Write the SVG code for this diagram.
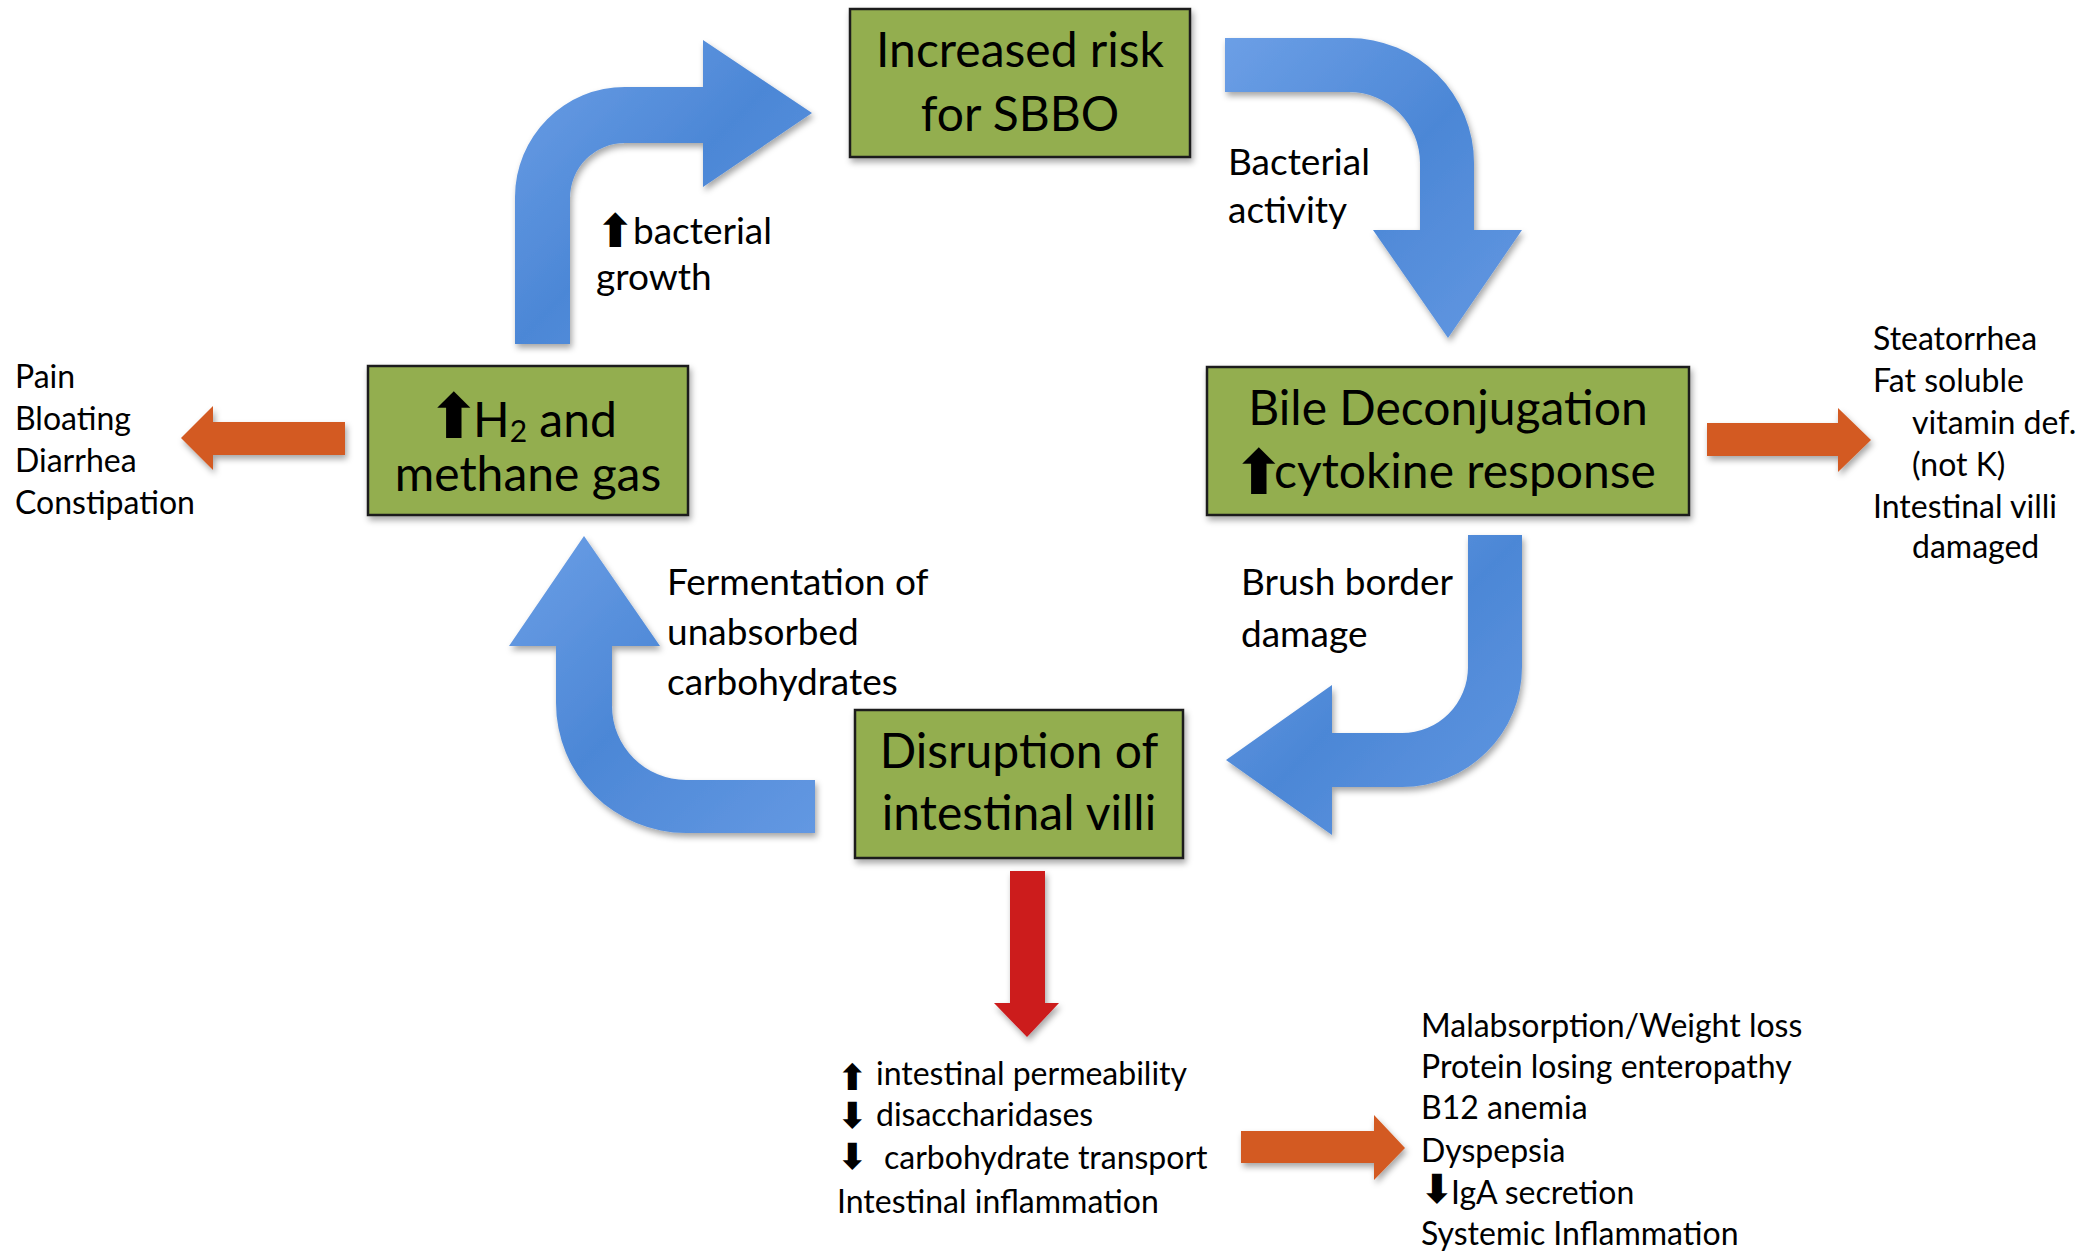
<svg xmlns="http://www.w3.org/2000/svg" width="2092" height="1253" viewBox="0 0 2092 1253">
<defs>
<style>
.box{fill:#93AE4F;stroke:#1e1e1e;stroke-width:2.5;filter:url(#sh)}
.bt{font-family:Lato,"Liberation Sans",sans-serif;font-size:48px;fill:#000;text-anchor:middle}
.bs{font-family:Lato,"Liberation Sans",sans-serif;font-size:48px;fill:#000}
.lb{font-family:Lato,"Liberation Sans",sans-serif;font-size:37px;fill:#000}
.sm{font-family:Lato,"Liberation Sans",sans-serif;font-size:32px;fill:#000}
.ar{font-family:"DejaVu Sans",sans-serif;font-weight:bold;fill:#000}
.blue{fill:url(#bg);filter:url(#sh)}
.orange{fill:#D35A21;filter:url(#sh)}
.red{fill:#CC1A1F;filter:url(#sh)}
</style>
<linearGradient id="bg" x1="0" y1="0" x2="1" y2="1">
<stop offset="0" stop-color="#6C9FE6"/>
<stop offset="0.5" stop-color="#4C87D6"/>
<stop offset="1" stop-color="#6398E2"/>
</linearGradient>
<filter id="sh" x="-20%" y="-20%" width="140%" height="140%">
<feDropShadow dx="2" dy="4" stdDeviation="3" flood-color="#000" flood-opacity="0.35"/>
</filter>
</defs>
<rect width="2092" height="1253" fill="#fff"/>
<g id="connectors">
<path class="blue" d="M 515 344 L 515 197 A 110 110 0 0 1 625 87 L 703 87 L 703 40 L 812 113 L 703 187 L 703 143 L 625 143 A 55 55 0 0 0 570 198 L 570 344 Z"/>
<path class="blue" d="M 1225 38 L 1349 38 A 125 125 0 0 1 1474 163 L 1474 230 L 1522 230 L 1448 338 L 1373 230 L 1420 230 L 1420 163 A 71 71 0 0 0 1349 92 L 1225 92 Z"/>
<path class="blue" d="M 1468 535 L 1522 535 L 1522 667 A 120 120 0 0 1 1402 787 L 1332 787 L 1332 835 L 1226 760 L 1332 685 L 1332 733 L 1402 733 A 66 66 0 0 0 1468 667 Z"/>
<path class="blue" d="M 815 780 L 686 780 A 74 74 0 0 1 612 706 L 612 646 L 660 646 L 584 536 L 509 646 L 556 646 L 556 703 A 130 130 0 0 0 686 833 L 815 833 Z"/>
<path class="orange" d="M 345 422 L 213 422 L 213 406 L 181 438 L 213 470 L 213 455 L 345 455 Z"/>
<path class="orange" d="M 1707 423 L 1838 423 L 1838 408 L 1871 440 L 1838 472 L 1838 456 L 1707 456 Z"/>
<path class="orange" d="M 1241 1131 L 1374 1131 L 1374 1115 L 1405 1148 L 1374 1180 L 1374 1163 L 1241 1163 Z"/>
<path class="red" d="M 1010 871 L 1045 871 L 1045 1003 L 1059 1003 L 1027 1037 L 994 1003 L 1010 1003 Z"/>
</g>
<g id="node-sbbo">
<rect class="box" x="850" y="9" width="340" height="148"/>
<text class="bt" x="1020" y="67">Increased risk</text>
<text class="bt" x="1020" y="131">for SBBO</text>
</g>
<g id="node-gas">
<rect class="box" x="368" y="366" width="320" height="149"/>
<text class="bs" x="428" y="437"><tspan class="ar" font-size="62" dy="1">⬆</tspan><tspan x="473" dy="-1">H</tspan><tspan font-size="30" dy="5">2</tspan><tspan dy="-5"> and</tspan></text>
<text class="bt" x="528" y="491">methane gas</text>
</g>
<g id="node-bile">
<rect class="box" x="1207" y="367" width="482" height="148"/>
<text class="bt" x="1448" y="425">Bile Deconjugation</text>
<text class="bs" x="1233" y="494"><tspan class="ar" font-size="62">⬆</tspan><tspan x="1274" dy="-6">cytokine response</tspan></text>
</g>
<g id="node-villi">
<rect class="box" x="855" y="710" width="328" height="148"/>
<text class="bt" x="1019" y="768">Disruption of</text>
<text class="bt" x="1019" y="830">intestinal villi</text>
</g>
<g id="labels">
<text class="lb" x="596" y="247"><tspan class="ar" font-size="46">⬆</tspan><tspan x="633" dy="-3">bacterial</tspan></text>
<text class="lb" x="596" y="290">growth</text>
<text class="lb" x="1228" y="175">Bacterial</text>
<text class="lb" x="1228" y="223">activity</text>
<text class="lb" x="1241" y="595">Brush border</text>
<text class="lb" x="1241" y="647">damage</text>
<text class="lb" x="667" y="595">Fermentation of</text>
<text class="lb" x="667" y="645">unabsorbed</text>
<text class="lb" x="667" y="695">carbohydrates</text>
<text class="sm" x="15" y="388">Pain</text>
<text class="sm" x="15" y="430">Bloating</text>
<text class="sm" x="15" y="472">Diarrhea</text>
<text class="sm" x="15" y="514">Constipation</text>
<text class="sm" x="1873" y="350">Steatorrhea</text>
<text class="sm" x="1873" y="392">Fat soluble</text>
<text class="sm" x="1912" y="434">vitamin def.</text>
<text class="sm" x="1912" y="476">(not K)</text>
<text class="sm" x="1873" y="518">Intestinal villi</text>
<text class="sm" x="1912" y="558">damaged</text>
<text class="sm" x="837" y="1090"><tspan class="ar" font-size="36">⬆</tspan><tspan x="876" dy="-5">intestinal permeability</tspan></text>
<text class="sm" x="837" y="1128"><tspan class="ar" font-size="36">⬇</tspan><tspan x="876" dy="-2">disaccharidases</tspan></text>
<text class="sm" x="837" y="1169"><tspan class="ar" font-size="36">⬇</tspan><tspan x="884">carbohydrate transport</tspan></text>
<text class="sm" x="837" y="1213">Intestinal inflammation</text>
<text class="sm" x="1421" y="1037">Malabsorption/Weight loss</text>
<text class="sm" x="1421" y="1078">Protein losing enteropathy</text>
<text class="sm" x="1421" y="1119">B12 anemia</text>
<text class="sm" x="1421" y="1162">Dyspepsia</text>
<text class="sm" x="1420" y="1203"><tspan class="ar" font-size="40">⬇</tspan><tspan x="1451" dy="1">IgA secretion</tspan></text>
<text class="sm" x="1421" y="1245">Systemic Inflammation</text>
</g>
</svg>
